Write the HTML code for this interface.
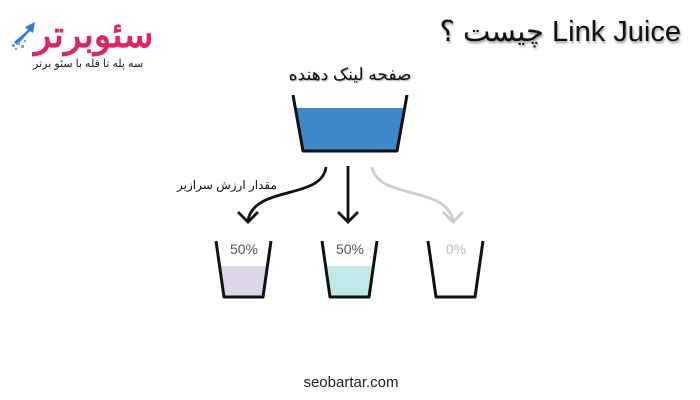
<!DOCTYPE html>
<html><head><meta charset="utf-8"><style>
html,body{margin:0;padding:0;background:#fff;}
body{width:700px;height:400px;position:relative;overflow:hidden;font-family:"Liberation Sans","Noto Sans CJK SC",sans-serif;}
.t{position:absolute;white-space:nowrap;}
</style></head><body>
<svg width="700" height="400" style="position:absolute;left:0;top:0">
  <polygon points="14,42 28,30 25,27 35,22 33,33 30,31 17,45" fill="#2d7fd0"/>
  <g fill="#6aa8e0"><rect x="12" y="44" width="3" height="3"/><rect x="17" y="42" width="3" height="3"/><rect x="21" y="45" width="3" height="3"/><rect x="15" y="48" width="2" height="2"/><rect x="24" y="40" width="2" height="2"/></g>
  <polygon points="296,108 404,108 397,150 303,150" fill="#3f88c9"/>
  <polyline points="293,95 303,151 397,151 407,95" fill="none" stroke="#111" stroke-width="3" stroke-linejoin="round"/>
  <path d="M326,167 C322,200 255,185 248,220" fill="none" stroke="#111" stroke-width="2.8"/>
  <polyline points="238,212 248,222 258,212" fill="none" stroke="#111" stroke-width="2.8"/>
  <line x1="348" y1="166" x2="348" y2="222" stroke="#111" stroke-width="2.8"/>
  <polyline points="338,212 348,222 358,212" fill="none" stroke="#111" stroke-width="2.8"/>
  <path d="M372,167 C378,200 445,185 453,220" fill="none" stroke="#c8ced2" stroke-width="2.8"/>
  <polyline points="443,212 453,222 463,212" fill="none" stroke="#c8ced2" stroke-width="2.8"/>
  <polygon points="219,266 269,266 263,296 224,296" fill="#dcd6e8"/>
  <polyline points="216,241 224,297 263,297 271,241" fill="none" stroke="#111" stroke-width="3" stroke-linejoin="round"/>
  <polygon points="325,266 375,266 369,296 330,296" fill="#bfe9e8"/>
  <polyline points="322,241 330,297 369,297 377,241" fill="none" stroke="#111" stroke-width="3" stroke-linejoin="round"/>
  <polyline points="428,241 436,297 475,297 483,241" fill="none" stroke="#111" stroke-width="3" stroke-linejoin="round"/>
  <text x="244" y="254" font-size="14" fill="#555" text-anchor="middle" font-family="Liberation Sans">50%</text>
  <text x="350" y="254" font-size="14" fill="#555" text-anchor="middle" font-family="Liberation Sans">50%</text>
  <text x="456" y="254" font-size="14" fill="#bbb" text-anchor="middle" font-family="Liberation Sans">0%</text>
</svg>
<div class="t" style="left:34px;top:14px;font-size:36px;font-weight:bold;color:#e0245e;letter-spacing:-1px;line-height:42px;">سئوبرتر</div>
<div class="t" style="left:33px;top:57px;font-size:11px;color:#222;line-height:14px;">سه پله تا قله با سئو برتر</div>
<div class="t" style="right:19px;top:14px;font-size:29px;color:#111;line-height:36px;text-shadow:1px 2px 2px #999;direction:rtl;">Link Juice چیست ؟</div>
<div class="t" style="left:277px;top:64px;width:146px;text-align:center;font-size:17px;color:#111;line-height:22px;text-shadow:1px 1px 1px #aaa;">صفحه لینک دهنده</div>
<div class="t" style="left:177px;top:177px;font-size:12px;color:#111;line-height:16px;">مقدار ارزش سرازیر</div>
<div class="t" style="left:298px;top:374px;width:106px;text-align:center;font-size:15px;color:#222;line-height:18px;">seobartar.com</div>
</body></html>
